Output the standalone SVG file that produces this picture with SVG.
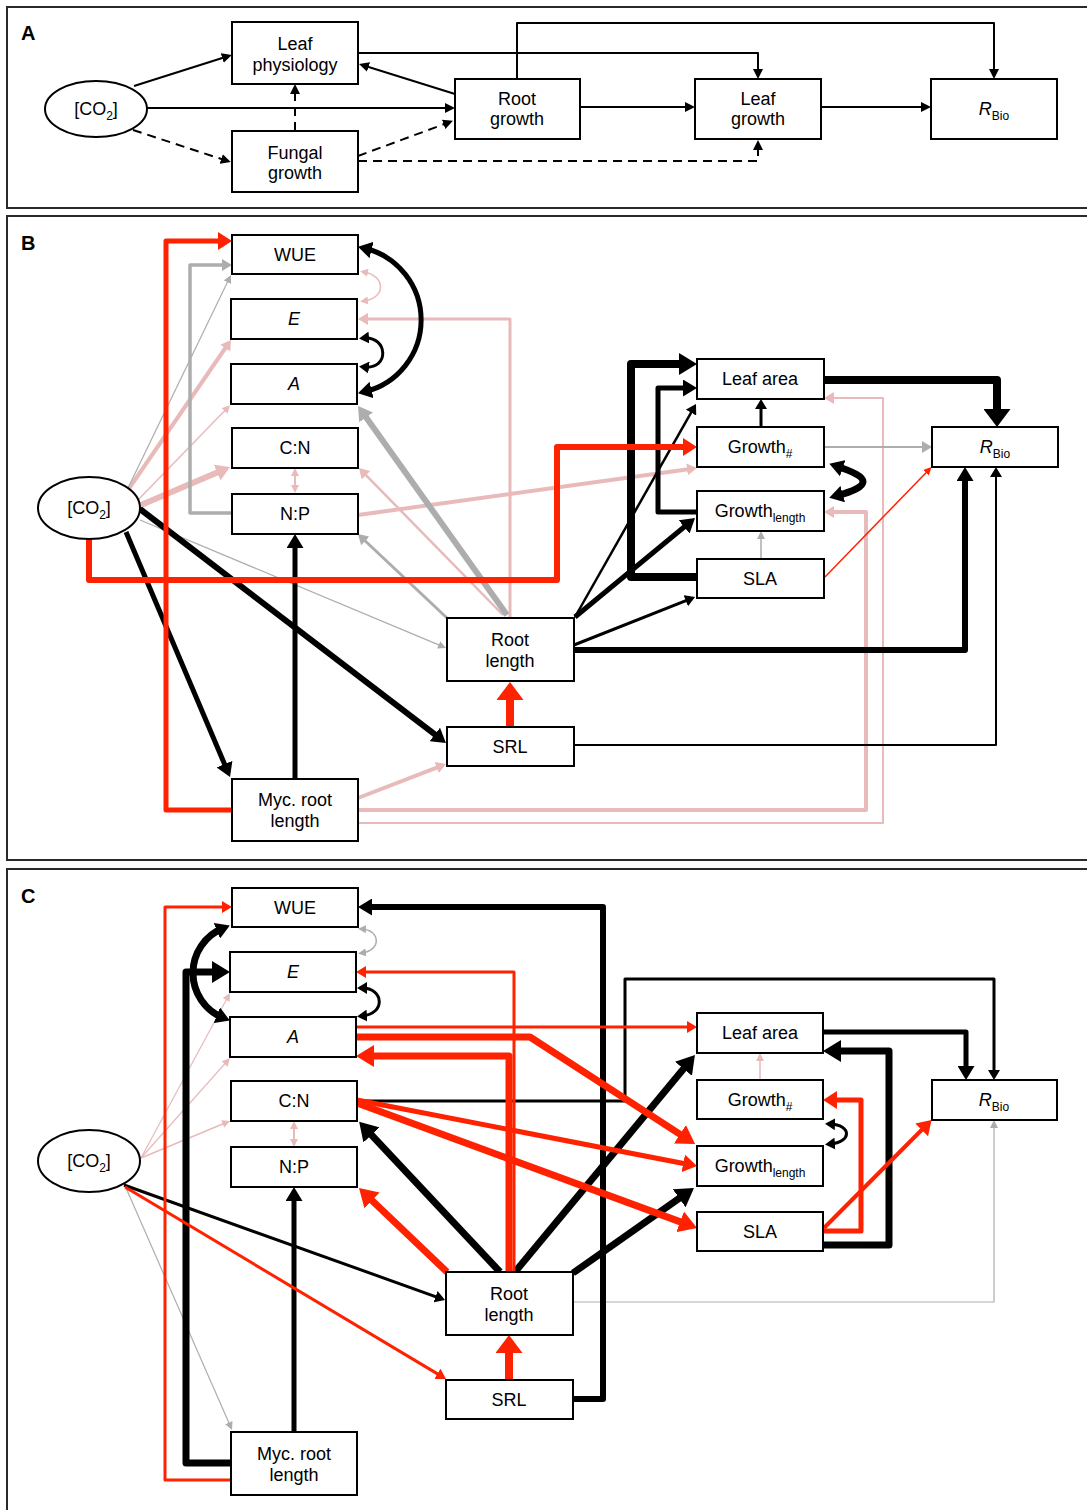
<svg xmlns="http://www.w3.org/2000/svg" width="1087" height="1510" viewBox="0 0 1087 1510">
  <style>
    .frame{fill:none;stroke:#2a2a2a;stroke-width:2}
    .box{fill:#fff;stroke:#000;stroke-width:2}
    .lbl{font-family:"Liberation Sans",Arial,sans-serif;font-size:18px;text-anchor:middle;fill:#000}
    .pl{font-family:"Liberation Sans",Arial,sans-serif;font-size:20px;font-weight:bold;fill:#000}
    .c{fill:none;stroke-linejoin:round}
    .k{stroke:#000}
    .r{stroke:#ff2200}
    .g{stroke:#adadad}
    .p{stroke:#e8baba}
    .d{stroke-dasharray:9 6}
  </style>
  <defs>
    <!-- arrowheads: tip sits half a head-length beyond the path end -->
    <marker id="ka" viewBox="0 0 10 10" refX="5" refY="5" markerWidth="10" markerHeight="10" markerUnits="userSpaceOnUse" orient="auto-start-reverse" preserveAspectRatio="none"><path d="M0,0 L10,5 L0,10 z" fill="#000"/></marker>
    <marker id="km" viewBox="0 0 10 10" refX="5" refY="5" markerWidth="10" markerHeight="12" markerUnits="userSpaceOnUse" orient="auto-start-reverse" preserveAspectRatio="none"><path d="M0,0 L10,5 L0,10 z" fill="#000"/></marker>
    <marker id="kl" viewBox="0 0 10 10" refX="5" refY="5" markerWidth="14" markerHeight="17" markerUnits="userSpaceOnUse" orient="auto-start-reverse" preserveAspectRatio="none"><path d="M0,0 L10,5 L0,10 z" fill="#000"/></marker>
    <marker id="kx" viewBox="0 0 10 10" refX="5" refY="5" markerWidth="18" markerHeight="22" markerUnits="userSpaceOnUse" orient="auto-start-reverse" preserveAspectRatio="none"><path d="M0,0 L10,5 L0,10 z" fill="#000"/></marker>
    <marker id="kxx" viewBox="0 0 10 10" refX="5" refY="5" markerWidth="18" markerHeight="27" markerUnits="userSpaceOnUse" orient="auto-start-reverse" preserveAspectRatio="none"><path d="M0,0 L10,5 L0,10 z" fill="#000"/></marker>
    <marker id="rs" viewBox="0 0 10 10" refX="5" refY="5" markerWidth="8" markerHeight="8" markerUnits="userSpaceOnUse" orient="auto-start-reverse" preserveAspectRatio="none"><path d="M0,0 L10,5 L0,10 z" fill="#ff2200"/></marker>
    <marker id="rm" viewBox="0 0 10 10" refX="5" refY="5" markerWidth="10" markerHeight="12" markerUnits="userSpaceOnUse" orient="auto-start-reverse" preserveAspectRatio="none"><path d="M0,0 L10,5 L0,10 z" fill="#ff2200"/></marker>
    <marker id="rl" viewBox="0 0 10 10" refX="5" refY="5" markerWidth="14" markerHeight="18" markerUnits="userSpaceOnUse" orient="auto-start-reverse" preserveAspectRatio="none"><path d="M0,0 L10,5 L0,10 z" fill="#ff2200"/></marker>
    <marker id="rx" viewBox="0 0 10 10" refX="5" refY="5" markerWidth="18" markerHeight="22" markerUnits="userSpaceOnUse" orient="auto-start-reverse" preserveAspectRatio="none"><path d="M0,0 L10,5 L0,10 z" fill="#ff2200"/></marker>
    <marker id="rxx" viewBox="0 0 10 10" refX="5" refY="5" markerWidth="18" markerHeight="27" markerUnits="userSpaceOnUse" orient="auto-start-reverse" preserveAspectRatio="none"><path d="M0,0 L10,5 L0,10 z" fill="#ff2200"/></marker>
    <marker id="gs" viewBox="0 0 10 10" refX="5" refY="5" markerWidth="8" markerHeight="8" markerUnits="userSpaceOnUse" orient="auto-start-reverse" preserveAspectRatio="none"><path d="M0,0 L10,5 L0,10 z" fill="#adadad"/></marker>
    <marker id="gm" viewBox="0 0 10 10" refX="5" refY="5" markerWidth="10" markerHeight="12" markerUnits="userSpaceOnUse" orient="auto-start-reverse" preserveAspectRatio="none"><path d="M0,0 L10,5 L0,10 z" fill="#adadad"/></marker>
    <marker id="gl" viewBox="0 0 10 10" refX="5" refY="5" markerWidth="14" markerHeight="17" markerUnits="userSpaceOnUse" orient="auto-start-reverse" preserveAspectRatio="none"><path d="M0,0 L10,5 L0,10 z" fill="#adadad"/></marker>
    <marker id="ps" viewBox="0 0 10 10" refX="5" refY="5" markerWidth="8" markerHeight="8" markerUnits="userSpaceOnUse" orient="auto-start-reverse" preserveAspectRatio="none"><path d="M0,0 L10,5 L0,10 z" fill="#e8baba"/></marker>
    <marker id="pm" viewBox="0 0 10 10" refX="5" refY="5" markerWidth="10" markerHeight="12" markerUnits="userSpaceOnUse" orient="auto-start-reverse" preserveAspectRatio="none"><path d="M0,0 L10,5 L0,10 z" fill="#e8baba"/></marker>
    <marker id="pl" viewBox="0 0 10 10" refX="5" refY="5" markerWidth="14" markerHeight="17" markerUnits="userSpaceOnUse" orient="auto-start-reverse" preserveAspectRatio="none"><path d="M0,0 L10,5 L0,10 z" fill="#e8baba"/></marker>
  </defs>

  <rect width="1087" height="1510" fill="#fff"/>

  <!-- panel frames (open to the right) -->
  <g id="frames">
    <rect class="frame" x="7" y="7" width="1100" height="201"/>
    <rect class="frame" x="7" y="216" width="1100" height="644"/>
    <rect class="frame" x="7" y="869" width="1100" height="660"/>
    <text class="pl" x="21" y="40">A</text>
    <text class="pl" x="21" y="250">B</text>
    <text class="pl" x="21" y="903">C</text>
  </g>

  <!-- ===== connectors ===== -->
  <g id="connectors">
    <!-- panel A -->
    <g class="c k" stroke-width="2">
      <path d="M134,86 L227,56.5" marker-end="url(#ka)"/>
      <path d="M147,108 H450" marker-end="url(#ka)"/>
      <path class="d" d="M133,130 L226,160.5" marker-end="url(#ka)"/>
      <path class="d" d="M295,131 V89" marker-end="url(#ka)"/>
      <path class="d" d="M358,156 L448.3,122.6" marker-end="url(#ka)"/>
      <path class="d" d="M358,161 H758 V145" marker-end="url(#ka)"/>
      <path d="M455,94 L363.8,65.5" marker-end="url(#ka)"/>
      <path d="M358,53 H758 V74" marker-end="url(#ka)"/>
      <path d="M517,79 V23 H994 V74" marker-end="url(#ka)"/>
      <path d="M580,107 H690" marker-end="url(#ka)"/>
      <path d="M821,107 H926" marker-end="url(#ka)"/>
    </g>

    <!-- panel B: weak positive (pink) -->
    <g class="c p">
      <path d="M128,490 L228.1,344" stroke-width="4" marker-end="url(#pm)"/>
      <path d="M138,500 L227.3,408" stroke-width="1.5" marker-end="url(#ps)"/>
      <path d="M141,505 L223.6,469.8" stroke-width="6" marker-end="url(#pl)"/>
      <path d="M364,272 C386,276 386,298 364,301" stroke-width="1.5" marker-start="url(#ps)" marker-end="url(#ps)"/>
      <path d="M295,472 V489" stroke-width="2" marker-start="url(#ps)" marker-end="url(#ps)"/>
      <path d="M510,618 V319 H363" stroke-width="3" marker-end="url(#pm)"/>
      <path d="M503,615 L362.5,471.6" stroke-width="2.5" marker-end="url(#pm)"/>
      <path d="M358,515 L692,468.7" stroke-width="4" marker-end="url(#pm)"/>
      <path d="M358,798 L441.3,765.8" stroke-width="4" marker-end="url(#pm)"/>
      <path d="M358,810 H866 V512 H829" stroke-width="4" marker-end="url(#pm)"/>
      <path d="M358,823 H883 V398 H829" stroke-width="2" marker-end="url(#pm)"/>
    </g>
    <!-- panel B: weak negative (grey) -->
    <g class="c g">
      <path d="M232,513 H190 V265 H227" stroke-width="3.5" marker-end="url(#gm)"/>
      <path d="M128,488 L229.2,278.6" stroke-width="1.2" marker-end="url(#gs)"/>
      <path d="M507,615 L362.1,411.7" stroke-width="6" marker-end="url(#gl)"/>
      <path d="M447,618 L361.6,537.5" stroke-width="3" marker-end="url(#gm)"/>
      <path d="M140,520 L442.3,646.4" stroke-width="1.2" marker-end="url(#gs)"/>
      <path d="M824,447 H927" stroke-width="2" marker-end="url(#gm)"/>
      <path d="M761,560 V535" stroke-width="1.5" marker-end="url(#gs)"/>
    </g>
    <!-- panel B: negative (black) -->
    <g class="c k">
      <path d="M126,532 L227.3,770.6" stroke-width="5" marker-end="url(#kl)"/>
      <path d="M140,509 L440.4,738.7" stroke-width="6" marker-end="url(#kl)"/>
      <path d="M295,779 V541" stroke-width="5" marker-end="url(#kl)"/>
      <path d="M364.8,248.3 A73.8,73.8 0 0 1 364.8,391.7" stroke-width="5" marker-start="url(#kl)" marker-end="url(#kl)"/>
      <path d="M364,338 C388,336 390,370 364,367" stroke-width="3" marker-start="url(#km)" marker-end="url(#km)"/>
      <path d="M697,577 H631 V364 H688" stroke-width="8" marker-end="url(#kx)"/>
      <path d="M697,512 H658 V388 H690" stroke-width="5" marker-end="url(#kl)"/>
      <path d="M575,617 L693.5,408.3" stroke-width="2.5" marker-end="url(#km)"/>
      <path d="M575,617 L689.6,522.5" stroke-width="5" marker-end="url(#kl)"/>
      <path d="M574,645 L690.4,598.9" stroke-width="3" marker-end="url(#km)"/>
      <path d="M574,650 H965 V474" stroke-width="6" marker-end="url(#kl)"/>
      <path d="M574,745 H996 V472" stroke-width="2" marker-end="url(#km)"/>
      <path d="M824,380 H997 V418" stroke-width="8" marker-end="url(#kxx)"/>
      <path d="M761,427 V404" stroke-width="3" marker-end="url(#km)"/>
      <path d="M836,466 C872,478 872,486 836,496" stroke-width="7" marker-start="url(#kl)" marker-end="url(#kl)"/>
    </g>
    <!-- panel B: positive (red) -->
    <g class="c r">
      <path d="M232,810 H166 V241 H225" stroke-width="5" marker-end="url(#rl)"/>
      <path d="M89,539 V580 H557 V447 H690" stroke-width="6" marker-end="url(#rl)"/>
      <path d="M510,727 V691" stroke-width="8" marker-end="url(#rxx)"/>
      <path d="M825,577 L928.7,469.9" stroke-width="1.5" marker-end="url(#rs)"/>
    </g>

    <!-- panel C: weak positive (pink) -->
    <g class="c p">
      <path d="M141,1158 L228.1,996.5" stroke-width="1.2" marker-end="url(#ps)"/>
      <path d="M141,1158 L227.3,1061" stroke-width="1.2" marker-end="url(#ps)"/>
      <path d="M141,1158 L226.3,1122.5" stroke-width="1.5" marker-end="url(#ps)"/>
      <path d="M294,1125 V1143" stroke-width="2" marker-start="url(#ps)" marker-end="url(#ps)"/>
      <path d="M760,1080 V1057" stroke-width="1.5" marker-end="url(#ps)"/>
    </g>
    <!-- panel C: weak negative (grey) -->
    <g class="c g">
      <path d="M362,929 C380,930 382,950 362,953" stroke-width="1.5" marker-start="url(#gs)" marker-end="url(#gs)"/>
      <path d="M126,1188 L230.4,1426.3" stroke-width="1.2" marker-end="url(#gs)"/>
      <path d="M573,1302 H994 V1124" stroke-width="1.2" marker-end="url(#gs)"/>
    </g>
    <!-- panel C: negative (black) -->
    <g class="c k">
      <path d="M573,1399 H603 V907 H365" stroke-width="6" marker-end="url(#kl)"/>
      <path d="M231,1463 H186 V972 H221" stroke-width="7" marker-end="url(#kx)"/>
      <path d="M223.3,928.1 A48.4,48.4 0 0 0 223.3,1017.9" stroke-width="7" marker-start="url(#kl)" marker-end="url(#kl)"/>
      <path d="M362,988 C384,988 386,1014 362,1016" stroke-width="3" marker-start="url(#km)" marker-end="url(#km)"/>
      <path d="M294,1432 V1194" stroke-width="5" marker-end="url(#kl)"/>
      <path d="M124,1185 L440.3,1298.3" stroke-width="3" marker-end="url(#km)"/>
      <path d="M500,1272 L365.3,1128.4" stroke-width="7" marker-end="url(#kx)"/>
      <path d="M515,1272 L689.2,1061.9" stroke-width="7" marker-end="url(#kx)"/>
      <path d="M573,1273 L686.6,1193.2" stroke-width="7" marker-end="url(#kx)"/>
      <path d="M357,1101 H625 V979 H994 V1075" stroke-width="3" marker-end="url(#km)"/>
      <path d="M823,1032 H966 V1073" stroke-width="5" marker-end="url(#kl)"/>
      <path d="M823,1245 H889 V1051 H832" stroke-width="7" marker-end="url(#kx)"/>
      <path d="M830,1124 C852,1125 852,1142 830,1144" stroke-width="3" marker-start="url(#km)" marker-end="url(#km)"/>
    </g>
    <!-- panel C: positive (red) -->
    <g class="c r">
      <path d="M231,1480 H165 V907 H227" stroke-width="3" marker-end="url(#rm)"/>
      <path d="M514,1272 V972 H361" stroke-width="3" marker-end="url(#rm)"/>
      <path d="M356,1027 H692" stroke-width="3" marker-end="url(#rm)"/>
      <path d="M356,1037 H530 L687.5,1139.1" stroke-width="7" marker-end="url(#rx)"/>
      <path d="M509,1272 V1056 H365" stroke-width="7" marker-end="url(#rx)"/>
      <path d="M357,1100 L690.1,1164.7" stroke-width="5" marker-end="url(#rl)"/>
      <path d="M357,1103 L688.6,1224.9" stroke-width="7" marker-end="url(#rx)"/>
      <path d="M447,1272 L365.5,1194.2" stroke-width="7" marker-end="url(#rx)"/>
      <path d="M509,1380 V1344" stroke-width="8" marker-end="url(#rxx)"/>
      <path d="M125,1187 L441.7,1376.4" stroke-width="3" marker-end="url(#rm)"/>
      <path d="M823,1231 H861 V1100 H830" stroke-width="5" marker-end="url(#rl)"/>
      <path d="M824,1228 L926.6,1125" stroke-width="4" marker-end="url(#rl)"/>
    </g>
  </g>

  <!-- ===== panel A nodes ===== -->
  <g id="a-co2"><ellipse class="box" cx="96" cy="109" rx="51" ry="28"/><text class="lbl" x="96" y="115">[CO<tspan font-size="12" dy="5">2</tspan><tspan dy="-5">]</tspan></text></g>
  <g id="a-leafphys"><rect class="box" x="232" y="22" width="126" height="62"/><text class="lbl" x="295" y="50">Leaf</text><text class="lbl" x="295" y="71">physiology</text></g>
  <g id="a-fungal"><rect class="box" x="232" y="131" width="126" height="61"/><text class="lbl" x="295" y="159">Fungal</text><text class="lbl" x="295" y="179">growth</text></g>
  <g id="a-rootgrowth"><rect class="box" x="455" y="79" width="125" height="60"/><text class="lbl" x="517" y="105">Root</text><text class="lbl" x="517" y="125">growth</text></g>
  <g id="a-leafgrowth"><rect class="box" x="695" y="79" width="126" height="60"/><text class="lbl" x="758" y="105">Leaf</text><text class="lbl" x="758" y="125">growth</text></g>
  <g id="a-rbio"><rect class="box" x="931" y="79" width="126" height="60"/><text class="lbl" x="994" y="115"><tspan font-style="italic">R</tspan><tspan font-size="12" dy="5">Bio</tspan></text></g>

  <!-- ===== panel B nodes ===== -->
  <g id="b-co2"><ellipse class="box" cx="89" cy="508" rx="51" ry="31"/><text class="lbl" x="89" y="514">[CO<tspan font-size="12" dy="5">2</tspan><tspan dy="-5">]</tspan></text></g>
  <g id="b-wue"><rect class="box" x="232" y="235" width="126" height="39"/><text class="lbl" x="295" y="261">WUE</text></g>
  <g id="b-e"><rect class="box" x="231" y="299" width="126" height="40"/><text class="lbl" x="294" y="325" font-style="italic">E</text></g>
  <g id="b-a"><rect class="box" x="231" y="364" width="126" height="40"/><text class="lbl" x="294" y="390" font-style="italic">A</text></g>
  <g id="b-cn"><rect class="box" x="232" y="428" width="126" height="40"/><text class="lbl" x="295" y="454">C:N</text></g>
  <g id="b-np"><rect class="box" x="232" y="494" width="126" height="40"/><text class="lbl" x="295" y="520">N:P</text></g>
  <g id="b-rootlen"><rect class="box" x="447" y="618" width="127" height="63"/><text class="lbl" x="510" y="646">Root</text><text class="lbl" x="510" y="667">length</text></g>
  <g id="b-srl"><rect class="box" x="447" y="727" width="127" height="39"/><text class="lbl" x="510" y="753">SRL</text></g>
  <g id="b-myc"><rect class="box" x="232" y="779" width="126" height="62"/><text class="lbl" x="295" y="806">Myc. root</text><text class="lbl" x="295" y="827">length</text></g>
  <g id="b-leafarea"><rect class="box" x="697" y="359" width="127" height="40"/><text class="lbl" x="760" y="385">Leaf area</text></g>
  <g id="b-growthn"><rect class="box" x="697" y="427" width="127" height="40"/><text class="lbl" x="760" y="453">Growth<tspan font-size="12" dy="5">#</tspan></text></g>
  <g id="b-growthl"><rect class="box" x="697" y="491" width="127" height="40"/><text class="lbl" x="760" y="517">Growth<tspan font-size="12" dy="5">length</tspan></text></g>
  <g id="b-sla"><rect class="box" x="697" y="559" width="127" height="39"/><text class="lbl" x="760" y="585">SLA</text></g>
  <g id="b-rbio"><rect class="box" x="932" y="427" width="126" height="40"/><text class="lbl" x="995" y="453"><tspan font-style="italic">R</tspan><tspan font-size="12" dy="5">Bio</tspan></text></g>

  <!-- ===== panel C nodes ===== -->
  <g id="c-co2"><ellipse class="box" cx="89" cy="1161" rx="51" ry="31"/><text class="lbl" x="89" y="1167">[CO<tspan font-size="12" dy="5">2</tspan><tspan dy="-5">]</tspan></text></g>
  <g id="c-wue"><rect class="box" x="232" y="888" width="126" height="39"/><text class="lbl" x="295" y="914">WUE</text></g>
  <g id="c-e"><rect class="box" x="230" y="952" width="126" height="40"/><text class="lbl" x="293" y="978" font-style="italic">E</text></g>
  <g id="c-a"><rect class="box" x="230" y="1017" width="126" height="40"/><text class="lbl" x="293" y="1043" font-style="italic">A</text></g>
  <g id="c-cn"><rect class="box" x="231" y="1081" width="126" height="40"/><text class="lbl" x="294" y="1107">C:N</text></g>
  <g id="c-np"><rect class="box" x="231" y="1147" width="126" height="40"/><text class="lbl" x="294" y="1173">N:P</text></g>
  <g id="c-rootlen"><rect class="box" x="446" y="1272" width="127" height="63"/><text class="lbl" x="509" y="1300">Root</text><text class="lbl" x="509" y="1321">length</text></g>
  <g id="c-srl"><rect class="box" x="446" y="1380" width="127" height="39"/><text class="lbl" x="509" y="1406">SRL</text></g>
  <g id="c-myc"><rect class="box" x="231" y="1432" width="126" height="63"/><text class="lbl" x="294" y="1460">Myc. root</text><text class="lbl" x="294" y="1481">length</text></g>
  <g id="c-leafarea"><rect class="box" x="697" y="1013" width="126" height="40"/><text class="lbl" x="760" y="1039">Leaf area</text></g>
  <g id="c-growthn"><rect class="box" x="697" y="1080" width="126" height="39"/><text class="lbl" x="760" y="1106">Growth<tspan font-size="12" dy="5">#</tspan></text></g>
  <g id="c-growthl"><rect class="box" x="697" y="1146" width="126" height="40"/><text class="lbl" x="760" y="1172">Growth<tspan font-size="12" dy="5">length</tspan></text></g>
  <g id="c-sla"><rect class="box" x="697" y="1212" width="126" height="39"/><text class="lbl" x="760" y="1238">SLA</text></g>
  <g id="c-rbio"><rect class="box" x="932" y="1080" width="125" height="40"/><text class="lbl" x="994" y="1106"><tspan font-style="italic">R</tspan><tspan font-size="12" dy="5">Bio</tspan></text></g>
</svg>
